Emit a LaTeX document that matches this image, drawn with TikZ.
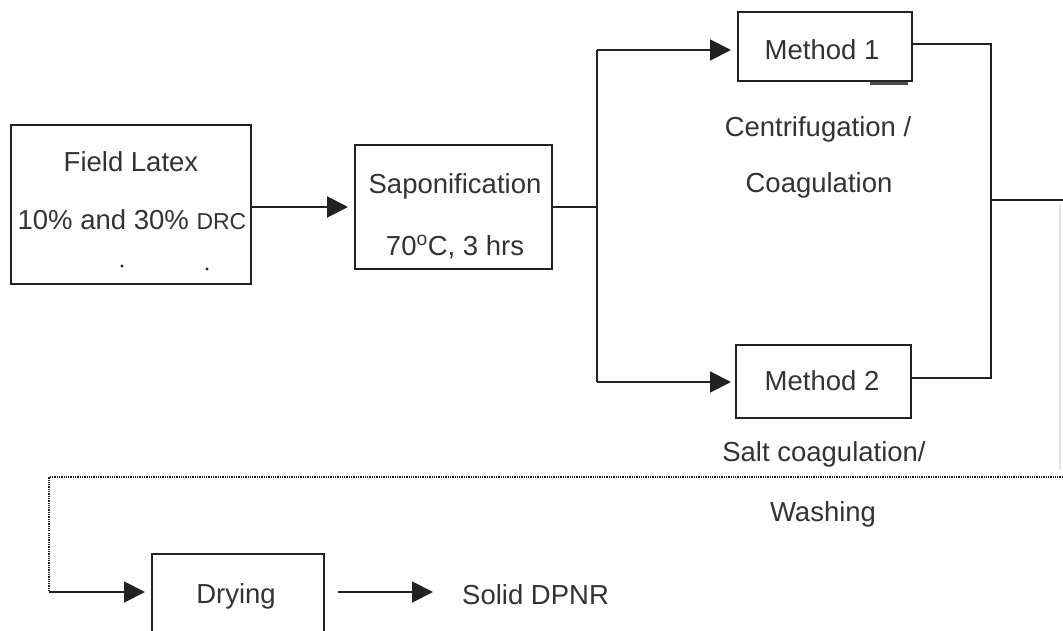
\documentclass[tikz,border=0pt]{standalone}
\usepackage{fontspec}
\setmainfont{Liberation Sans}
\usetikzlibrary{arrows.meta}
\definecolor{linec}{HTML}{222222}
\definecolor{textc}{HTML}{333333}
\begin{document}
\begin{tikzpicture}[x=1pt,y=-1pt,
  box/.style={draw=linec, line width=2pt, inner sep=0pt, fill=none},
  txt/.style={font=\fontsize{27.5pt}{33pt}\selectfont, text=textc, inner sep=0pt, anchor=base},
  conn/.style={draw=linec, line width=2pt},
  arr/.style={conn, -{Triangle[length=21pt,width=21pt]}},
  dotline/.style={draw=linec, line width=2.2pt, dash pattern=on 1.3pt off 1pt}
]
\useasboundingbox (0,0) rectangle (1063,631);
\clip (0,0) rectangle (1063,631);

% boxes
\node[box, minimum width=240pt, minimum height=159pt] (field) at (131,204.5) {};
\node[box, minimum width=197pt, minimum height=124pt] (sapon) at (453.5,207) {};
\node[box, minimum width=174pt, minimum height=69pt] (m1) at (825,46.5) {};
\node[box, minimum width=175pt, minimum height=73pt] (m2) at (823.5,381.5) {};
\node[box, minimum width=172pt, minimum height=150pt] (dry) at (238,629) {};

% texts
\node[txt] (t1) at (131,172) {Field Latex};
\node[txt] (t2) at (132,230) {10\% and 30\% {\fontsize{23pt}{28pt}\selectfont DRC}};
\node[txt] (t3) at (455,194) {Saponification};
\node[txt] (t4) at (455,255) {70\textsuperscript{o}C, 3 hrs};
\node[txt] (t5) at (822,60) {Method 1};
\node[txt] (t6) at (818,137) {Centrifugation /};
\node[txt] (t7) at (819,193) {Coagulation};
\node[txt] (t8) at (822,390) {Method 2};
\node[txt] (t9) at (824,461) {Salt coagulation/};
\node[txt] (t10) at (823,521) {Washing};
\node[txt] (t11) at (236,603) {Drying};
\node[txt, anchor=base west] (dpnr) at (462,604) {Solid DPNR};

% dots in field box
\fill[linec] (122,266) circle (1.6pt);
\fill[linec] (207,269) circle (1.6pt);

% small mark under Method 1
\draw[draw=linec!80, line width=3pt] (870,83.5) -- (908,83.5);

% coordinates
\coordinate (split) at (597,207);
\coordinate (s1) at (597,50);
\coordinate (s2) at (597,382);
\coordinate (r1) at (991,44);
\coordinate (r2) at (991,378);
\coordinate (join) at (991,200);
\coordinate (edge) at (1063,200);
\coordinate (dr) at (1063,477);
\coordinate (dl) at (49,477);
\coordinate (dd) at (49,592);

% connectors
\draw[arr, shorten >=6pt] (field.east |- sapon.west) -- (sapon.west);
\draw[conn] (sapon.east) -- (split);
\draw[conn] (s1) -- (s2);
\draw[arr, shorten >=6pt] (s1) -- (s1 -| m1.west);
\draw[arr, shorten >=4pt] (s2) -- (s2 -| m2.west);
\draw[conn] (m1.east |- r1) -- (r1) -- (r2) -- (m2.east |- r2);
\draw[conn] (join) -- (edge);
\draw[draw=black!10, line width=2pt] (1060,205) -- (1060,470);
\draw[dotline] (dr) -- (dl) -- (dd);
\draw[arr, shorten >=6pt] (dd) -- (dd -| dry.west);
\draw[arr, shorten <=13pt, shorten >=29pt] (dry.east |- dd) -- (dpnr.west |- dd);
\end{tikzpicture}
\end{document}
